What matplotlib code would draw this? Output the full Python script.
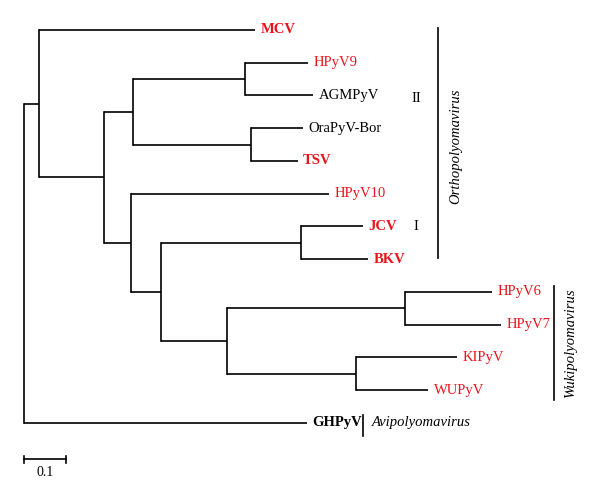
import matplotlib.pyplot as plt

plt.rcParams['font.family'] = ['Liberation Serif', 'DejaVu Serif']

# tree: node name, parent, branch length (substitutions/site)
names = ['root', 'A', 'MCV', 'B', 'C', 'D', 'HPyV9', 'AGMPyV', 'E', 'OraPyV-Bor', 'TSV',
         'F', 'HPyV10', 'G', 'H', 'JCV', 'BKV', 'I', 'J', 'HPyV6', 'HPyV7', 'K',
         'KIPyV', 'WUPyV', 'GHPyV']
parents = [None, 'root', 'A', 'A', 'B', 'C', 'D', 'D', 'C', 'E', 'E',
           'B', 'F', 'F', 'G', 'H', 'H', 'G', 'I', 'J', 'J', 'I',
           'K', 'K', 'root']
branch = [0, 0.036, 0.518, 0.157, 0.068, 0.269, 0.150, 0.163, 0.283, 0.124, 0.112,
          0.064, 0.475, 0.072, 0.335, 0.148, 0.161, 0.158, 0.427, 0.209, 0.229, 0.308,
          0.243, 0.175, 0.678]

# leaf labels top to bottom
leaves = ['MCV', 'HPyV9', 'AGMPyV', 'OraPyV-Bor', 'TSV', 'HPyV10', 'JCV', 'BKV',
          'HPyV6', 'HPyV7', 'KIPyV', 'WUPyV', 'GHPyV']
red_leaves = ['MCV', 'HPyV9', 'TSV', 'HPyV10', 'JCV', 'BKV', 'HPyV6', 'HPyV7', 'KIPyV', 'WUPyV']
bold_leaves = ['MCV', 'TSV', 'JCV', 'BKV', 'GHPyV']

RED = '#e8141c'
LW = 1.2

par = dict(zip(names, parents))
blen = dict(zip(names, branch))
children = {n: [c for c in names if par[c] == n] for n in names}

depth = {}
for n in names:
    depth[n] = blen[n] + (depth[par[n]] if par[n] else 0)

ypos = {}
def get_y(n):
    if n in leaves:
        ypos[n] = leaves.index(n)
    else:
        ys = [get_y(c) for c in children[n]]
        ypos[n] = (min(ys) + max(ys)) / 2
    return ypos[n]
get_y('root')

fig = plt.figure(figsize=(6.0, 5.03), dpi=100)
ax = fig.add_axes([0, 0, 1, 1])
ax.set_xlim(-0.0576, 1.3813)
ax.set_ylim(14.443, -0.916)
ax.axis('off')

for n in names:
    if par[n]:
        ax.plot([depth[par[n]], depth[n]], [ypos[n], ypos[n]], color='black', lw=LW,
                solid_capstyle='butt')
    if children[n]:
        ys = [ypos[c] for c in children[n]]
        ax.plot([depth[n], depth[n]], [min(ys), max(ys)], color='black', lw=LW,
                solid_capstyle='projecting')

for n in leaves:
    ax.annotate(n, (depth[n], ypos[n]), xytext=(4, 0), textcoords='offset points',
                ha='left', va='center', fontsize=10.5,
                color=RED if n in red_leaves else 'black',
                fontweight='bold' if n in bold_leaves else 'normal')

# clade bars
ax.plot([0.992, 0.992], [-0.05, 6.97], color='black', lw=LW)
ax.text(1.035, 3.55, 'Orthopolyomavirus', rotation=90, style='italic', fontsize=10.5,
        ha='center', va='center')
ax.text(0.942, 2.1, 'II', fontsize=10.5, ha='center', va='center')
ax.text(0.939, 6.0, 'I', fontsize=10.5, ha='center', va='center')

ax.plot([1.271, 1.271], [7.82, 11.3], color='black', lw=LW)
ax.text(1.31, 9.55, 'Wukipolyomavirus', rotation=90, style='italic', fontsize=10.5,
        ha='center', va='center')

ax.plot([0.813, 0.813], [11.76, 12.4], color='black', lw=LW)
ax.text(0.835, 12.0, 'Avipolyomavirus', style='italic', fontsize=10.5,
        ha='left', va='center')

# scale bar
ax.plot([0, 0.1], [13.11, 13.11], color='black', lw=LW)
ax.plot([0, 0], [13.0, 13.22], color='black', lw=LW)
ax.plot([0.1, 0.1], [13.0, 13.22], color='black', lw=LW)
ax.text(0.05, 13.5, '0.1', fontsize=10, ha='center', va='center')

fig.savefig('out.png', dpi=100)
